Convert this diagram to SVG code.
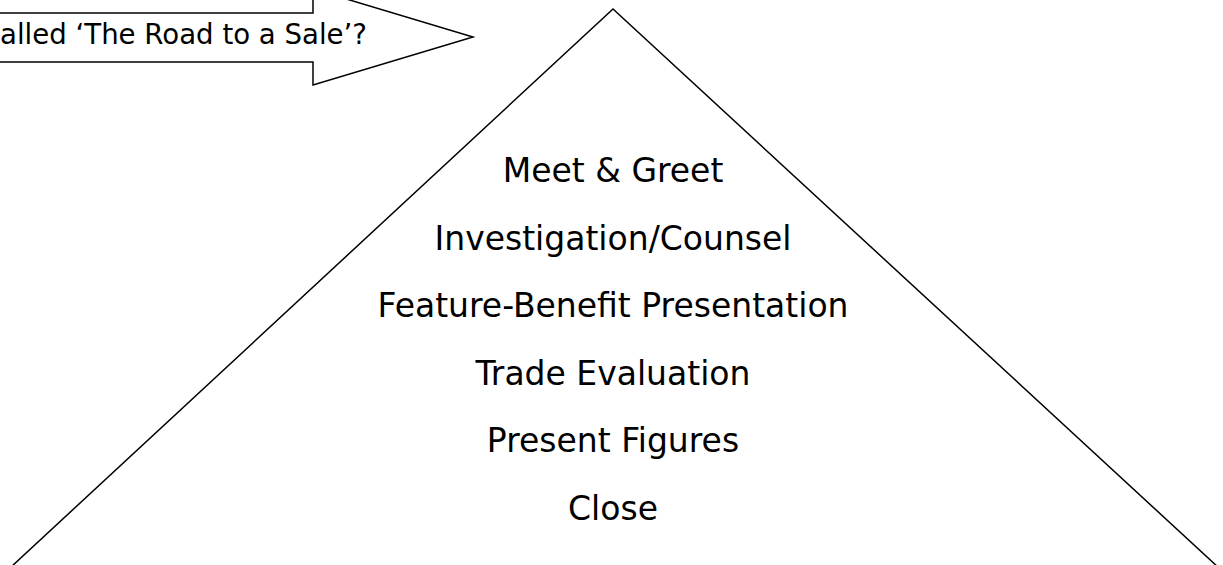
<svg xmlns="http://www.w3.org/2000/svg" width="1223" height="565" viewBox="0 0 1223 565">
<style>
.shape{fill:#fff;stroke:#000;stroke-width:1.5;stroke-linejoin:miter}
.lbl{font-family:"DejaVu Sans","Verdana",sans-serif;fill:#000}
.step{font-size:33px;text-anchor:middle}
</style>
<rect width="1223" height="565" fill="#fff"/>
<g id="pyramid">
<polyline class="shape" points="-3,580 613,9 1232,580"/>
<text class="lbl step" x="613" y="182">Meet &amp; Greet</text>
<text class="lbl step" x="613" y="249.5">Investigation/Counsel</text>
<text class="lbl step" x="613" y="317">Feature-Benefit Presentation</text>
<text class="lbl step" x="613" y="384.5">Trade Evaluation</text>
<text class="lbl step" x="613" y="452">Present Figures</text>
<text class="lbl step" x="613" y="519.5">Close</text>
</g>
<g id="arrow">
<polygon class="shape" points="-10,13 313,13 313,-11 473,37 313,85 313,62 -10,62"/>
<text class="lbl" x="0" y="44" font-size="27.6">alled ‘The Road to a Sale’?</text>
</g>
</svg>
